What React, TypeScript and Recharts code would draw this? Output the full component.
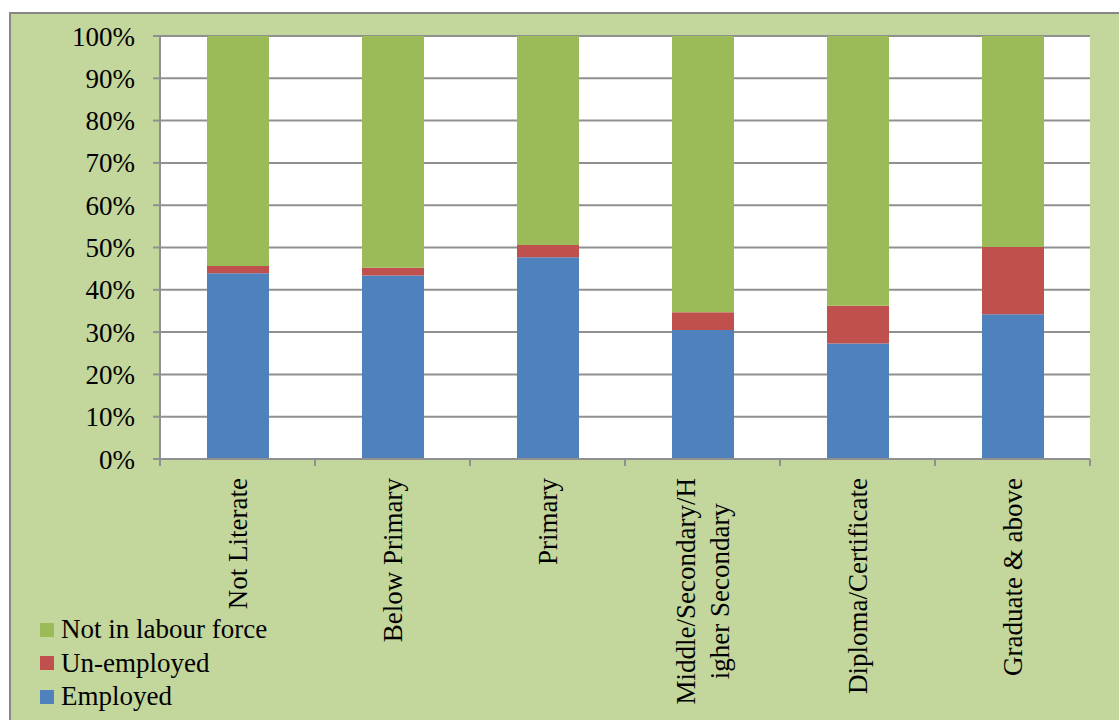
import React from "react";
import { BarChart, Bar, XAxis, YAxis, CartesianGrid, Legend } from "recharts";

// ─── data ─────────────────────────────────────────────────────────────────────
// share of persons (%) by education level

const categories = [
  "Not Literate",
  "Below Primary",
  "Primary",
  "Middle/Secondary/Higher Secondary",
  "Diploma/Certificate",
  "Graduate & above",
];

// how the axis labels wrap in the original
const labelLines = [
  ["Not Literate"],
  ["Below Primary"],
  ["Primary"],
  ["Middle/Secondary/H", "igher Secondary"],
  ["Diploma/Certificate"],
  ["Graduate & above"],
];

const employed = [43.9, 43.4, 47.7, 30.5, 27.3, 34.2];
const unemployed = [1.7, 1.8, 2.9, 4.2, 8.9, 15.9];
const notInLabourForce = [54.4, 54.8, 49.4, 65.3, 63.8, 49.9];

const yTicks = [0, 0.1, 0.2, 0.3, 0.4, 0.5, 0.6, 0.7, 0.8, 0.9, 1];

// legend reads top-down, opposite of the stack
const legendOrder = ["Not in labour force", "Un-employed", "Employed"];

const data = categories.map((name, i) => ({
  name,
  employed: employed[i],
  unemployed: unemployed[i],
  nlf: notInLabourForce[i],
}));

// ─── layout / style ───────────────────────────────────────────────────────────

const FONT = '"Liberation Serif", "Times New Roman", serif';
const FONT_SIZE = 27;
const AXIS = "#909090";
const BG = "#c3d69b";

const W = 1119;
const H = 720;
const PLOT_LEFT = 160;
const PLOT_RIGHT = 1090;
const PLOT_TOP = 36;
const PLOT_BOTTOM = 459;
const BAND = (PLOT_RIGHT - PLOT_LEFT) / categories.length;
const TICK = 7;
const TICK_MARGIN = 12;
const LINE_GAP = 34;

let measureCtx: CanvasRenderingContext2D | null = null;
function textWidth(s: string): number {
  if (!measureCtx) {
    measureCtx = document.createElement("canvas").getContext("2d");
  }
  if (!measureCtx) return s.length * FONT_SIZE * 0.45;
  measureCtx.font = `${FONT_SIZE}px "Liberation Serif"`;
  return measureCtx.measureText(s).width;
}

function CategoryTick(props: any) {
  const { x, y, index } = props;
  const lines = labelLines[index] ?? [props.payload.value];
  const axisY = y - TICK - TICK_MARGIN;
  const w0 = textWidth(lines[0]);
  const n = lines.length;
  return (
    <g>
      <line x1={x - BAND / 2} y1={axisY} x2={x - BAND / 2} y2={axisY + TICK} stroke={AXIS} strokeWidth={2} />
      {index === categories.length - 1 && (
        <line x1={x + BAND / 2} y1={axisY} x2={x + BAND / 2} y2={axisY + TICK} stroke={AXIS} strokeWidth={2} />
      )}
      <g transform={`translate(${x},${y}) rotate(-90)`}>
        {lines.map((ln: string, i: number) => (
          <text
            key={i}
            x={i === 0 ? 0 : -w0 / 2}
            y={(i - (n - 1) / 2) * LINE_GAP}
            dy="0.35em"
            textAnchor={i === 0 ? "end" : "middle"}
            fontSize={FONT_SIZE}
            fontFamily={FONT}
            fill="#000"
          >
            {ln}
          </text>
        ))}
      </g>
    </g>
  );
}

function LegendBox(props: any) {
  const items = [...(props.payload ?? [])].sort(
    (a: any, b: any) => legendOrder.indexOf(a.value) - legendOrder.indexOf(b.value),
  );
  return (
    <div style={{ fontFamily: FONT, fontSize: FONT_SIZE, color: "#000" }}>
      {items.map((it: any) => (
        <div key={it.value} style={{ display: "flex", alignItems: "center", height: 33.5, whiteSpace: "nowrap" }}>
          <span style={{ display: "inline-block", width: 14, height: 14, background: it.color, marginRight: 7 }} />
          <span style={{ fontFamily: FONT, fontSize: FONT_SIZE }}>{it.value}</span>
        </div>
      ))}
    </div>
  );
}

export default function App() {
  return (
    <div style={{ position: "absolute", left: 0, top: 0, width: W, height: H, overflow: "hidden", background: "#fff" }}>
      <div
        style={{
          position: "absolute",
          left: 9,
          top: 12,
          width: W + 40,
          height: H + 40,
          background: BG,
          border: "2px solid #878787",
        }}
      />
      <div style={{ position: "absolute", left: 0, top: 0, fontFamily: FONT }}>
        <BarChart
          width={W}
          height={H}
          data={data}
          stackOffset="expand"
          barSize={62}
          margin={{ top: PLOT_TOP, right: W - PLOT_RIGHT, bottom: 0, left: 0 }}
        >
          <CartesianGrid vertical={false} stroke={AXIS} strokeWidth={2} fill="#fff" fillOpacity={1} />
          <XAxis
            dataKey="name"
            interval={0}
            height={H - PLOT_BOTTOM}
            tickLine={false}
            tickSize={TICK}
            tickMargin={TICK_MARGIN}
            axisLine={{ stroke: AXIS, strokeWidth: 2 }}
            tick={<CategoryTick />}
          />
          <YAxis
            width={PLOT_LEFT}
            domain={[0, 1]}
            ticks={yTicks}
            tickFormatter={(v: number) => `${Math.round(v * 100)}%`}
            tickSize={TICK}
            tickMargin={18}
            axisLine={{ stroke: AXIS, strokeWidth: 2 }}
            tickLine={{ stroke: AXIS, strokeWidth: 2 }}
            tick={{ fontSize: FONT_SIZE, fontFamily: FONT, fill: "#000" }}
          />
          <Legend
            layout="vertical"
            align="center"
            verticalAlign="middle"
            content={<LegendBox />}
            wrapperStyle={{ left: 40, top: 613, width: 320 }}
          />
          <Bar dataKey="employed" name="Employed" stackId="a" fill="#4f81bd" isAnimationActive={false} />
          <Bar dataKey="unemployed" name="Un-employed" stackId="a" fill="#c0504d" isAnimationActive={false} />
          <Bar dataKey="nlf" name="Not in labour force" stackId="a" fill="#9bbb59" isAnimationActive={false} />
        </BarChart>
      </div>
    </div>
  );
}
